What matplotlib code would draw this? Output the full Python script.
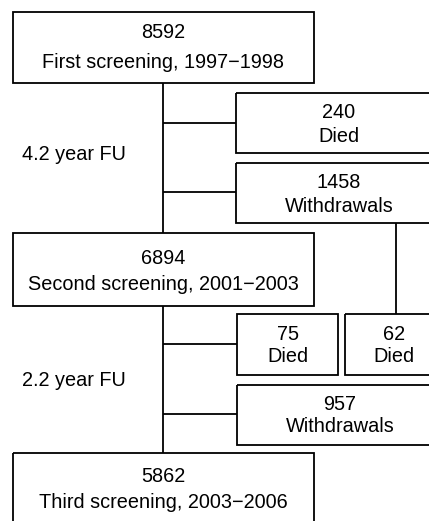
import matplotlib
matplotlib.use("Agg")
import matplotlib.pyplot as plt
from matplotlib.patches import Rectangle

plt.rcParams['font.family'] = ['Liberation Sans', 'DejaVu Sans']

# Data
main_counts = [8592, 6894, 5862]
main_labels = ["First screening, 1997\u22121998",
               "Second screening, 2001\u22122003",
               "Third screening, 2003\u22122006"]
fu_labels = ["4.2 year FU", "2.2 year FU"]
died_counts = [240, 75, 62]
withdraw_counts = [1458, 957]

W, H = 429, 521
fig = plt.figure(figsize=(W / 100, H / 100), dpi=100)
ax = fig.add_axes([0, 0, 1, 1])
ax.set_xlim(0, W)
ax.set_ylim(H, 0)
ax.axis('off')

LW = 1.3
FS = 14.3

def box(x0, y0, x1, y1):
    ax.add_patch(Rectangle((x0, y0), x1 - x0, y1 - y0, fill=False,
                           edgecolor='black', linewidth=LW, clip_on=True))

def line(xs, ys):
    ax.plot(xs, ys, color='black', linewidth=LW, solid_capstyle='butt')

def txt(x, y, s):
    ax.text(x, y, s, ha='center', va='center', fontsize=FS)

# main boxes
main_geom = [(13, 12, 314, 83, 32, 62),
             (13, 233, 314, 306, 258, 284),
             (13, 453, 314, 540, 477, 503)]
for (x0, y0, x1, y1, t1, t2), c, lab in zip(main_geom, main_counts, main_labels):
    box(x0, y0, x1, y1)
    txt((x0 + x1) / 2, t1, str(c))
    txt((x0 + x1) / 2, t2, lab)

# trunk
trunk_x = 163
line([trunk_x, trunk_x], [83, 233])
line([trunk_x, trunk_x], [306, 453])

# side boxes, first period
box(236, 93, 442, 153)
txt(339, 113, str(died_counts[0]))
txt(339, 136, "Died")
line([trunk_x, 236], [123, 123])

box(236, 163, 442, 223)
txt(339, 183, str(withdraw_counts[0]))
txt(339, 206, "Withdrawals")
line([trunk_x, 236], [192, 192])

# second period
box(237, 314, 338, 375)
txt(288, 334, str(died_counts[1]))
txt(288, 357, "Died")
line([trunk_x, 237], [344, 344])

box(345, 314, 443, 375)
txt(394, 334, str(died_counts[2]))
txt(394, 357, "Died")
line([396, 396], [223, 314])

box(237, 385, 442, 445)
txt(340, 404, str(withdraw_counts[1]))
txt(340, 427, "Withdrawals")
line([trunk_x, 237], [414, 414])

# follow-up labels
ax.text(22, 155, fu_labels[0], ha='left', va='center', fontsize=FS)
ax.text(22, 380, fu_labels[1], ha='left', va='center', fontsize=FS)

fig.savefig("out.png", dpi=100)
